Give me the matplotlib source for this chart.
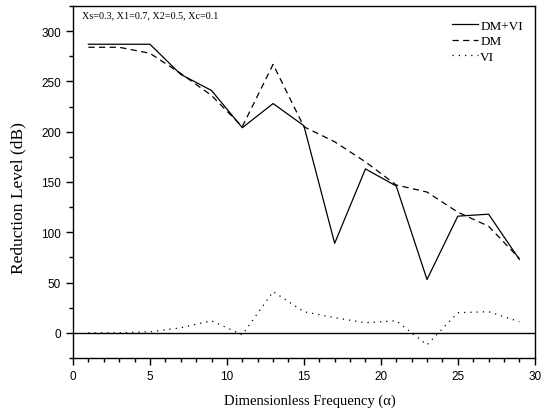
import matplotlib
matplotlib.use("Agg")
import matplotlib.pyplot as plt
from matplotlib.ticker import MultipleLocator

freq = [1, 3, 5, 7, 9, 11, 13, 15, 17, 19, 21, 23, 25, 27, 29]
dm_vi = [287, 287, 287, 257, 241, 204, 228, 206, 89, 163, 146, 53, 116, 118, 73]
dm = [284, 284, 278, 258, 236, 205, 267, 205, 190, 170, 147, 140, 120, 106, 74]
vi = [0, 0, 1, 5, 12, -2, 41, 21, 15, 10, 12, -12, 20, 21, 11]

fig = plt.figure(figsize=(5.53, 4.14), dpi=100)
ax = fig.add_axes([0.132, 0.133, 0.835, 0.850])

serif = "Liberation Serif"
sans = "Liberation Sans"

ax.axhline(0, color="black", lw=1.0)
ax.plot(freq, dm_vi, color="black", lw=0.9, ls="-", label="DM+VI")
ax.plot(freq, dm, color="black", lw=0.9, ls=(0, (5, 3.5)), label="DM")
ax.plot(freq, vi, color="black", lw=0.9, ls=(0, (1, 4)), label="VI")

ax.set_xlim(0, 30)
ax.set_ylim(-25, 325)
ax.xaxis.set_major_locator(MultipleLocator(5))
ax.xaxis.set_minor_locator(MultipleLocator(1))
ax.yaxis.set_major_locator(MultipleLocator(50))
ax.yaxis.set_minor_locator(MultipleLocator(25))
ax.tick_params(which="major", direction="out", length=5, width=1.0, labelsize=8.5)
ax.tick_params(which="minor", direction="out", length=3, width=1.0)
for lab in ax.get_xticklabels() + ax.get_yticklabels():
    lab.set_fontfamily(sans)
for s in ax.spines.values():
    s.set_linewidth(1.0)

ax.set_xlabel("Dimensionless Frequency (\u03b1)", fontfamily=serif, fontsize=10.5,
              va="center", ha="center")
ax.xaxis.set_label_coords(0.513, -0.119)
ax.set_ylabel("Reduction Level (dB)", fontfamily=serif, fontsize=12.5,
              va="center", ha="center")
ax.yaxis.set_label_coords(-0.119, 0.457)

ax.text(0.02, 0.988, "Xs=0.3, X1=0.7, X2=0.5, Xc=0.1", transform=ax.transAxes,
        ha="left", va="top", fontfamily=serif, fontsize=7.3)

leg = ax.legend(loc="upper right", frameon=False, prop={"family": serif, "size": 9.5},
                handlelength=2.0, handletextpad=0.15, labelspacing=0.25,
                bbox_to_anchor=(1.0, 0.995))

fig.savefig("out.png", dpi=100)
